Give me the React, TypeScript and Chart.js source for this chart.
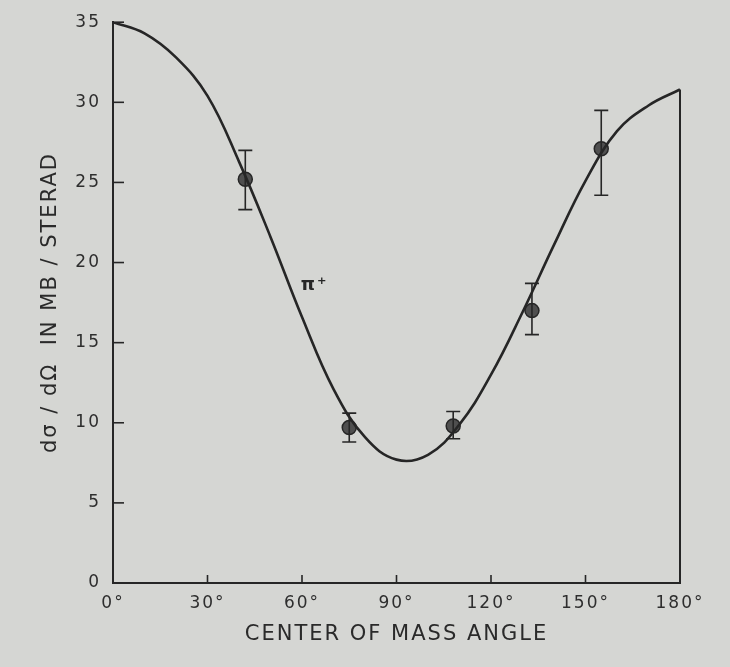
import React, { useEffect, useRef } from "react";
import { Chart, registerables } from "chart.js";

Chart.register(...registerables);

const curveAngles = [0, 10, 20, 30, 40, 50, 60, 70, 80, 90, 100, 110, 120, 130, 140, 150, 160, 170, 180];
const curveValues = [35.0, 34.3, 32.8, 30.4, 26.3, 21.6, 16.6, 12.1, 9.1, 7.7, 8.0, 9.9, 13.0, 16.9, 21.1, 25.1, 28.2, 29.8, 30.8];

const pointAngles = [42, 75, 108, 133, 155];
const pointValues = [25.2, 9.7, 9.8, 17.0, 27.1];
const errLow = [23.3, 8.8, 9.0, 15.5, 24.2];
const errHigh = [27.0, 10.6, 10.7, 18.7, 29.5];

const xTickValues = [0, 30, 60, 90, 120, 150, 180];
const yTickValues = [0, 5, 10, 15, 20, 25, 30, 35];

const annotationText = "π⁺";
const annotationAngle = 64;
const annotationValue = 18.6;

const INK = "#262626";
const BG = "#d5d6d3";

const drawPlugin = {
  id: "drawExtras",
  beforeDraw(chart: any) {
    const ctx = chart.ctx;
    ctx.fillStyle = BG;
    ctx.fillRect(0, 0, chart.width, chart.height);
    (ctx as any).letterSpacing = "2px";
  },
  afterDatasetsDraw(chart: any) {
    const ctx = chart.ctx;
    const xs = chart.scales.x;
    const ys = chart.scales.y;
    const area = chart.chartArea;
    ctx.save();
    ctx.strokeStyle = INK;
    ctx.lineWidth = 1.6;
    // inner ticks
    xTickValues.forEach((v) => {
      if (v === 0 || v === 180) return;
      const px = xs.getPixelForValue(v);
      ctx.beginPath();
      ctx.moveTo(px, area.bottom);
      ctx.lineTo(px, area.bottom - 8);
      ctx.stroke();
    });
    yTickValues.forEach((v) => {
      if (v === 0) return;
      const py = ys.getPixelForValue(v);
      ctx.beginPath();
      ctx.moveTo(area.left, py);
      ctx.lineTo(area.left + 11, py);
      ctx.stroke();
    });
    // right border up to curve end
    ctx.lineWidth = 2;
    ctx.beginPath();
    ctx.moveTo(area.right, area.bottom);
    ctx.lineTo(area.right, ys.getPixelForValue(curveValues[curveValues.length - 1]));
    ctx.stroke();
    // error bars
    ctx.lineWidth = 1.6;
    pointAngles.forEach((a, i) => {
      const px = xs.getPixelForValue(a);
      const top = ys.getPixelForValue(errHigh[i]);
      const bot = ys.getPixelForValue(errLow[i]);
      ctx.beginPath();
      ctx.moveTo(px, top);
      ctx.lineTo(px, bot);
      ctx.moveTo(px - 7, top);
      ctx.lineTo(px + 7, top);
      ctx.moveTo(px - 7, bot);
      ctx.lineTo(px + 7, bot);
      ctx.stroke();
    });
    // annotation
    ctx.fillStyle = INK;
    ctx.font = "bold 18px 'DejaVu Sans'";
    ctx.textAlign = "center";
    ctx.textBaseline = "middle";
    ctx.fillText(annotationText, xs.getPixelForValue(annotationAngle), ys.getPixelForValue(annotationValue));
    ctx.restore();
  },
};

export default function App() {
  const canvasRef = useRef<HTMLCanvasElement | null>(null);

  useEffect(() => {
    document.body.style.margin = "0";
    document.body.style.background = BG;
    const canvas = canvasRef.current;
    if (!canvas) return;
    const chart = new Chart(canvas, {
      type: "scatter",
      data: {
        datasets: [
          {
            type: "line",
            data: curveAngles.map((a, i) => ({ x: a, y: curveValues[i] })),
            borderColor: INK,
            borderWidth: 2.6,
            pointRadius: 0,
            tension: 0.4,
            fill: false,
          } as any,
          {
            type: "scatter",
            data: pointAngles.map((a, i) => ({ x: a, y: pointValues[i] })),
            pointRadius: 7,
            pointBackgroundColor: "rgba(55,55,55,0.85)",
            pointBorderColor: INK,
            pointBorderWidth: 1.5,
          },
        ],
      },
      options: {
        animation: false,
        responsive: false,
        events: [],
        layout: { padding: { top: 22, right: 50, left: 0, bottom: 0 } },
        plugins: { legend: { display: false }, tooltip: { enabled: false } },
        scales: {
          x: {
            type: "linear",
            min: 0,
            max: 180,
            afterFit: (s: any) => {
              s.height = 84;
            },
            afterBuildTicks: (s: any) => {
              s.ticks = xTickValues.map((v) => ({ value: v }));
            },
            grid: { display: false, drawTicks: false },
            border: { display: true, color: INK, width: 2 },
            ticks: {
              padding: 10,
              color: "#2e2e2e",
              font: { family: "'DejaVu Sans'", size: 17 },
              callback: (v: any) => v + "°",
              maxRotation: 0,
            },
            title: {
              display: true,
              text: "CENTER OF MASS ANGLE",
              color: "#2a2a2a",
              font: { family: "'DejaVu Sans'", size: 21 },
              padding: { top: 0, bottom: 20 },
            },
          },
          y: {
            type: "linear",
            min: 0,
            max: 35,
            afterFit: (s: any) => {
              s.width = 113;
            },
            afterBuildTicks: (s: any) => {
              s.ticks = yTickValues.map((v) => ({ value: v }));
            },
            grid: { display: false, drawTicks: false },
            border: { display: true, color: INK, width: 2 },
            ticks: {
              padding: 12,
              color: "#2e2e2e",
              font: { family: "'DejaVu Sans'", size: 17 },
            },
            title: {
              display: true,
              text: "dσ / dΩ  IN MB / STERAD",
              color: "#2a2a2a",
              font: { family: "'DejaVu Sans'", size: 21 },
              padding: { top: 38, bottom: 0 },
            },
          },
        },
      } as any,
      plugins: [drawPlugin],
    });
    return () => chart.destroy();
  }, []);

  return (
    <div style={{ width: 730, height: 667, background: BG }}>
      <canvas ref={canvasRef} width={730} height={667} style={{ display: "block" }} />
    </div>
  );
}
